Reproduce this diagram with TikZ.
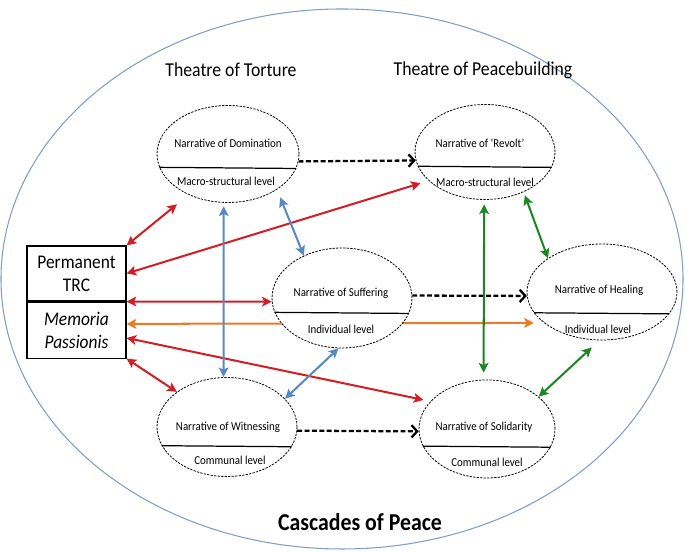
\documentclass[tikz,border=0pt]{standalone}
\usepackage{fontspec}
\setmainfont{Carlito}[FakeStretch=0.9]
\usetikzlibrary{shapes.geometric, arrows.meta, positioning, backgrounds}
\definecolor{linkred}{RGB}{212, 30, 38}
\definecolor{linkblue}{RGB}{88, 136, 196}
\definecolor{linkgreen}{RGB}{28, 134, 34}
\definecolor{linkorange}{RGB}{236, 122, 40}
\definecolor{rimblue}{RGB}{128, 158, 196}

\tikzset{
    narr/.style={ellipse, draw, dash pattern=on 1.3pt off 0.7pt, line width=0.45pt, fill=white, inner sep=0pt},
    lbl/.style={font=\fontsize{6.9}{8}\selectfont, inner sep=0pt},
    title/.style={font=\fontsize{11.2}{13}\selectfont, inner sep=0pt},
    trcbox/.style={draw, line width=0.6pt, minimum width=1.98cm, align=center, inner sep=0pt},
    link/.style={{Stealth[length=5.5pt, width=5.5pt, inset=1.2pt]}-{Stealth[length=5.5pt, width=5.5pt, inset=1.2pt]}, line width=1.15pt},
    flow/.style={-{Straight Barb[length=3.2pt, width=7pt, line width=1.3pt]}, dash pattern=on 2.8pt off 1.4pt, line width=1.3pt},
}

\begin{document}
\begin{tikzpicture}
    \useasboundingbox (0,0) rectangle (13.7,11.04);

    % Titles
    \node[title] (torture) at (4.62, 9.64) {Theatre of Torture};
    \node[title] (peace) at (9.66, 9.64) {Theatre of Peacebuilding};
    \node[font=\bfseries\fontsize{13.8}{16}\selectfont, inner sep=0pt] (cascades) at (7.20, 0.60) {Cascades of Peace};

    % Permanent TRC box
    \node[trcbox, minimum height=1.10cm, font=\fontsize{11}{13}\selectfont] (trc) at (1.53, 5.57) {Permanent\\TRC};
    \node[trcbox, minimum height=1.12cm, font=\itshape\fontsize{11}{13}\selectfont, below=0pt of trc] (memo) {Memoria\\Passionis};

    % Narrative of Domination
    \node[narr, minimum width=2.84cm, minimum height=1.94cm] (dom) at (4.56, 7.96) {};
    \draw[line width=0.7pt] (dom.191.7) -- (dom.348.3);
    \node[lbl] (domtxt) at (4.56, 8.18) {Narrative of Domination};
    \node[lbl] (domlvl) at (4.52, 7.42) {Macro-structural level};

    % Narrative of Revolt
    \node[narr, minimum width=2.80cm, minimum height=1.90cm] (rev) at (9.70, 8.00) {};
    \draw[line width=0.7pt] (rev.192.7) -- (rev.347.3);
    \node[lbl] (revtxt) at (9.60, 8.18) {Narrative of `Revolt'};
    \node[lbl] (revlvl) at (9.70, 7.40) {Macro-structural level};

    % Narrative of Suffering
    \node[narr, minimum width=2.80cm, minimum height=2.00cm] (suf) at (6.84, 5.08) {};
    \draw[line width=0.7pt] (suf.192.7) -- (suf.347.3);
    \node[lbl] (suftxt) at (6.82, 5.18) {Narrative of Suffering};
    \node[lbl] (suflvl) at (6.82, 4.46) {Individual level};

    % Narrative of Healing
    \node[narr, minimum width=3.00cm, minimum height=1.92cm] (heal) at (12.04, 5.20) {};
    \draw[line width=0.7pt] (heal.197.3) -- (heal.342.7);
    \node[lbl] (healtxt) at (11.98, 5.24) {Narrative of Healing};
    \node[lbl] (heallvl) at (11.96, 4.46) {Individual level};

    % Narrative of Witnessing
    \node[narr, minimum width=2.80cm, minimum height=1.98cm] (wit) at (4.54, 2.50) {};
    \draw[line width=0.7pt] (wit.196.9) -- (wit.343.1);
    \node[lbl] (wittxt) at (4.56, 2.50) {Narrative of Witnessing};
    \node[lbl] (witlvl) at (4.60, 1.84) {Communal level};

    % Narrative of Solidarity
    \node[narr, minimum width=2.72cm, minimum height=1.96cm] (sol) at (9.74, 2.46) {};
    \draw[line width=0.7pt] (sol.195.9) -- (sol.344.1);
    \node[lbl] (soltxt) at (9.68, 2.50) {Narrative of Solidarity};
    \node[lbl] (sollvl) at (9.74, 1.80) {Communal level};

    \begin{scope}[on background layer]
        % outer rim
        \draw[rimblue, line width=0.6pt] (6.84, 5.46) ellipse (6.82 and 5.40);

        % links from the TRC box
        \draw[link, linkred, shorten >=0.3cm] (trc.north east) -- (dom.226);
        \draw[link, linkred, shorten >=0.17cm] (trc.east) -- (rev.207);
        \draw[link, linkred] (trc.south east) -- (suf.183);
        \draw[link, linkorange, shorten >=0.2cm] (memo.7) -- (heal.208);
        \draw[link, linkred, shorten >=0.14cm] (memo.351) -- (sol.154);
        \draw[link, linkred] (memo.south east) -- (wit.145);

        % torture to peacebuilding
        \draw[flow] (dom.354) -- (rev.187);
        \draw[flow] (suf.2) -- (heal.183);
        \draw[flow] (wit.357) -- (sol.182);
    \end{scope}

    % Theatre of Torture
    \draw[link, linkblue, shorten <=0.07cm] (dom.265) -- (wit.94);
    \draw[link, linkblue, shorten <=0.17cm] (dom.324) -- (suf.132);
    \draw[link, linkblue] (suf.266) -- (wit.26);

    % Theatre of Peacebuilding
    \draw[link, linkgreen, shorten <=0.09cm, shorten >=0.14cm] (rev.269) -- (sol.94);
    \draw[link, linkgreen, shorten <=0.07cm] (rev.314) -- (heal.148);
    \draw[link, linkgreen, shorten <=0.21cm] (heal.267) -- (sol.32);
\end{tikzpicture}
\end{document}
